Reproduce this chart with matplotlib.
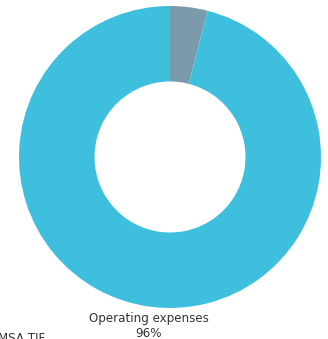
import matplotlib
matplotlib.use("Agg")
import matplotlib.pyplot as plt

categories = ["MSA TIF", "Operating expenses"]
values = [4, 96]
colors = ["#7b9aab", "#3ebfde"]

W, H = 328, 339
cx, cy, R = 170, 157, 151

fig = plt.figure(figsize=(W / 100, H / 100), dpi=100)
ax = fig.add_axes([0, 0, 1, 1])

labels = [f"{c}\n{v}%" for c, v in zip(categories, values)]
wedges, texts = ax.pie(values, colors=colors, startangle=90, counterclock=False,
                       radius=1, labels=labels, labeldistance=1.125,
                       wedgeprops=dict(width=0.5, linewidth=0),
                       textprops=dict(fontsize=8.6, color="#333333", family="DejaVu Sans"),
                       frame=True)
for t in texts:
    t.set_ha("center")
    t.set_va("center")
    t.set_linespacing(1.2)
ax.set_xlim(-cx / R, (W - cx) / R)
ax.set_ylim(-(H - cy) / R, cy / R)
ax.set_aspect("equal")
ax.axis("off")

fig.text(-2 / W, 1 - 338 / H, categories[0], fontsize=8.6, color="#333333",
         ha="left", va="center")

fig.savefig("out.png", dpi=100)
